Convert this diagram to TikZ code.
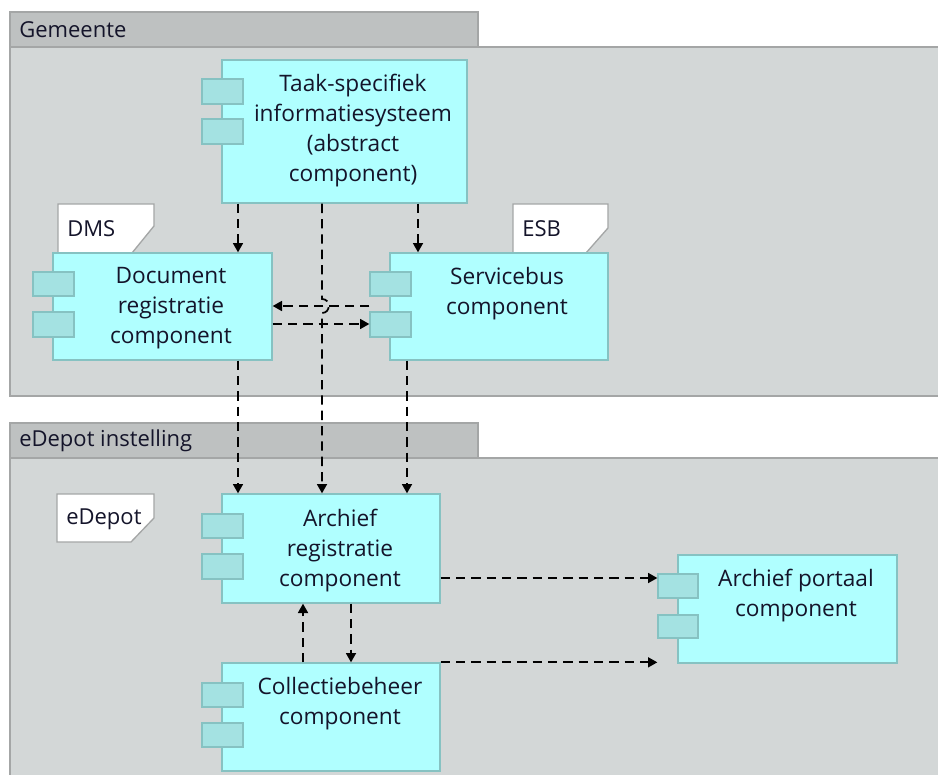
\documentclass[tikz,border=0pt]{standalone}
\usepackage{fontspec}
\setmainfont{Open Sans}
\usetikzlibrary{arrows.meta,fit,calc}

\definecolor{grpfill}{HTML}{D3D7D7}
\definecolor{tabfill}{HTML}{BEC1C1}
\definecolor{grpline}{HTML}{A4A6A6}
\definecolor{compfill}{HTML}{B0FFFF}
\definecolor{compline}{HTML}{86C2C2}
\definecolor{portfill}{HTML}{A4E2E2}
\definecolor{inktext}{HTML}{14142A}

\tikzset{
  grpbody/.style={draw=grpline, fill=grpfill, line width=1.2pt, inner sep=0pt},
  grptab/.style={draw=grpline, fill=tabfill, line width=1.2pt, inner sep=0pt},
  grptitle/.style={anchor=west, inner sep=0pt, font=\fontsize{16.5}{20}\selectfont, text=inktext},
  comp/.style={draw=compline, fill=compfill, line width=1pt, inner sep=0pt},
  port/.style={draw=compline, fill=portfill, line width=1pt, inner sep=0pt},
  tag/.style={draw=grpline, fill=white, line width=1pt},
  tagtext/.style={anchor=west, inner sep=0pt, font=\fontsize{16.5}{20}\selectfont, text=inktext},
  txt/.style={anchor=north, inner sep=0pt, align=center, text=inktext,
              font=\fontsize{17}{22.5}\selectfont},
  dep/.style={draw=black, line width=1.3pt, dash pattern=on 7pt off 4.5pt,
              -{Triangle[length=7pt,width=7.5pt]}},
}

\begin{document}
\begin{tikzpicture}[x=0.75pt, y=-0.75pt]
\useasboundingbox (0,0) rectangle (938,774);
\clip (0,0) rectangle (938,774);
\fill[white] (0,0) rectangle (938,774);

% ---------- groups ----------
\node[grpbody, fit={(10,47) (950,396)}] (g1) {};
\node[grptab, fit={(10,12) (478,47)}] (g1tab) {};
\node[grptitle] (g1t) at (19,30) {Gemeente};

\node[grpbody, fit={(10,458) (950,790)}] (g2) {};
\node[grptab, fit={(10,423) (478,458)}] (g2tab) {};
\node[grptitle] (g2t) at (19,441) {eDepot instelling};

% ---------- location tags ----------
\draw[tag] (58,204) -- (154,204) -- (154,226) -- (132,253) -- (58,253) -- cycle;
\node[tagtext] (dmst) at (67,229) {DMS};
\draw[tag] (513,204) -- (608,204) -- (608,228) -- (586,253) -- (513,253) -- cycle;
\node[tagtext] (esbt) at (522,229) {ESB};
\draw[tag] (57,494) -- (154,494) -- (154,518) -- (131,542) -- (57,542) -- cycle;
\node[tagtext] (edt) at (66,519) {eDepot};

% ---------- components ----------
\node[comp, fit={(222,60) (467,203)}] (tis) {};
\node[port, fit={(202,79) (243,104)}] (tisp1) {};
\node[port, fit={(202,119) (243,144)}] (tisp2) {};
\node[txt] (tist) at (353,74) {Taak-specifiek\\informatiesysteem\\(abstract\\component)};

\node[comp, fit={(53,253) (272,360)}] (dms) {};
\node[port, fit={(33,272) (74,296)}] (dmsp1) {};
\node[port, fit={(33,312) (74,337)}] (dmsp2) {};
\node[txt] (dmst2) at (171,267) {Document\\registratie\\component};

\node[comp, fit={(390,253) (608,360)}] (esb) {};
\node[port, fit={(370,272) (411,296)}] (esbp1) {};
\node[port, fit={(370,312) (411,337)}] (esbp2) {};
\node[txt] (esbt2) at (507,267) {Servicebus\\component};

\node[comp, fit={(222,494) (440,603)}] (ar) {};
\node[port, fit={(202,514) (243,538)}] (arp1) {};
\node[port, fit={(202,554) (243,579)}] (arp2) {};
\node[txt] (art) at (340,509) {Archief\\registratie\\component};

\node[comp, fit={(222,663) (440,771)}] (cb) {};
\node[port, fit={(202,683) (243,707)}] (cbp1) {};
\node[port, fit={(202,723) (243,747)}] (cbp2) {};
\node[txt] (cbt) at (340,677) {Collectiebeheer\\component};

\node[comp, fit={(678,555) (897,663)}] (ap) {};
\node[port, fit={(658,574) (698,598)}] (app1) {};
\node[port, fit={(658,615) (698,638)}] (app2) {};
\node[txt] (apt) at (796,569) {Archief portaal\\component};

% ---------- connector columns ----------
\coordinate (xa) at (238,0);
\coordinate (xb) at (322,0);
\coordinate (xc) at (407,0);
\coordinate (xd) at (418,0);
\coordinate (xe) at (303,0);
\coordinate (xf) at (351,0);
\coordinate (yu) at (0,306);
\coordinate (yl) at (0,324);
\coordinate (yp) at (0,578);
\coordinate (ap-end) at ($(ap.south west)+(-20,0)$);

% ---------- connectors ----------
\draw[dep] (tis.south -| xa) -- (dms.north -| xa);
\draw[dep] (tis.south -| xd) -- (esb.north -| xd);

% long line from the task system, hopping over the upper horizontal connector
\draw[dep] (tis.south -| xb) -- (322,299)
  .. controls (331,299) and (331,313) .. (322,313) -- (ar.north -| xb);

\draw[dep] (esbp1.west |- yu) -- (dms.east |- yu);
\draw[dep] (dms.east |- yl) -- (esbp2.west |- yl);

\draw[dep] (dms.south -| xa) -- (ar.north -| xa);
\draw[dep] (esb.south -| xc) -- (ar.north -| xc);

\draw[dep] (cb.north -| xe) -- (ar.south -| xe);
\draw[dep] (ar.south -| xf) -- (cb.north -| xf);

\draw[dep] (ar.east |- yp) -- (app1.west |- yp);
\draw[dep] (cb.north east) -- (cb.north east -| ap-end);
\end{tikzpicture}
\end{document}
